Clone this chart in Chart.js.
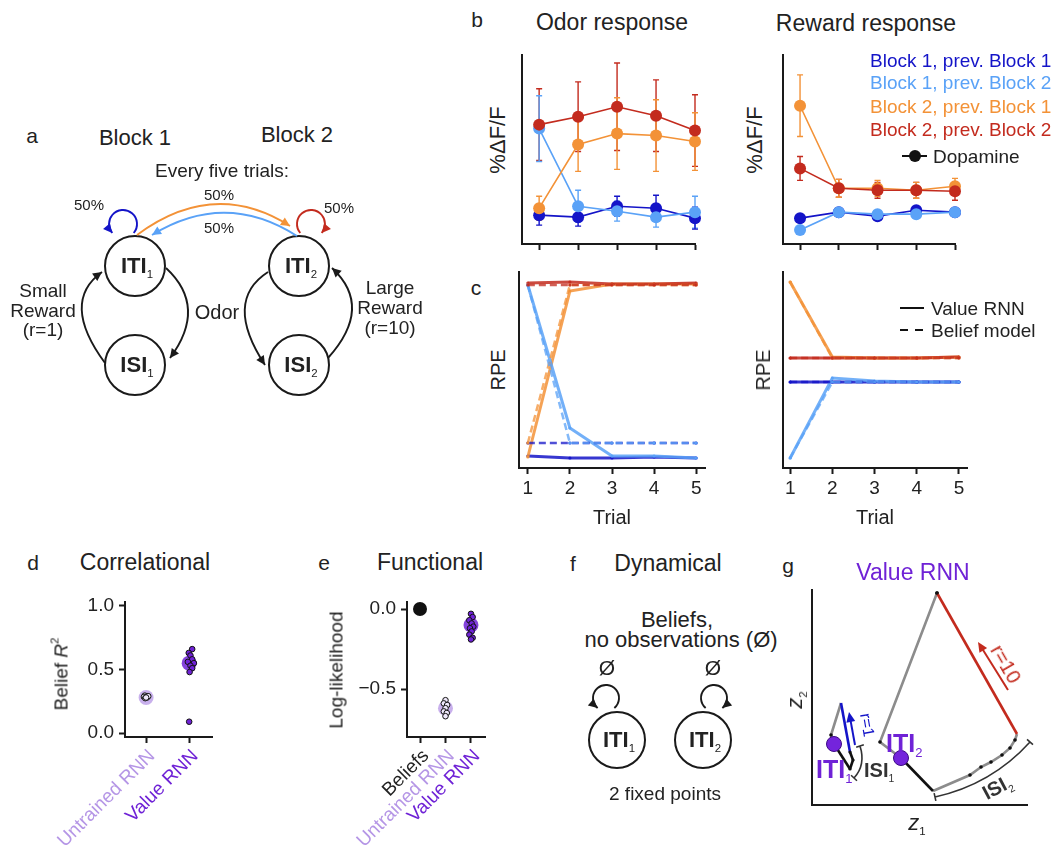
<!DOCTYPE html>
<html>
<head>
<meta charset="utf-8">
<title>Value RNN and beliefs</title>
<script src="https://cdn.jsdelivr.net/npm/chart.js@4.4.1/dist/chart.umd.min.js"></script>
<style>
  html, body { margin: 0; padding: 0; background: #fff; }
  #fig { position: relative; width: 1060px; height: 852px; overflow: hidden;
         font-family: 'Liberation Sans', Arial, Helvetica, sans-serif; color: #222; }
  #fig canvas { position: absolute; }
  .t { position: absolute; white-space: nowrap; line-height: 1; }
  .t sub { font-size: 0.52em; font-weight: normal; vertical-align: -0.45em; line-height: 0; }
  .t sup { font-size: 0.6em; vertical-align: 0.75em; line-height: 0; }
  .mark { position: absolute; }
</style>
</head>
<body>
<div id="fig"></div>
<script>
// ---------- data ----------
const TRIALS = [1, 2, 3, 4, 5];

// b: dopamine odor response (%dF/F, arbitrary units), mean and error
const odorB1prev1 = [0.29, 0.27, 0.38, 0.36, 0.26];
const odorB1prev1Err = [0.10, 0.09, 0.10, 0.13, 0.11];
const odorB1prev2 = [1.16, 0.38, 0.33, 0.27, 0.32];
const odorB1prev2Err = [0.33, 0.16, 0.10, 0.10, 0.16];
const odorB2prev1 = [0.36, 1.00, 1.11, 1.09, 1.03];
const odorB2prev1Err = [0.12, 0.27, 0.36, 0.36, 0.29];
const odorB2prev2 = [1.20, 1.28, 1.38, 1.29, 1.14];
const odorB2prev2Err = [0.36, 0.35, 0.44, 0.36, 0.36];

// b: dopamine reward response
const rewB1prev1 = [0.26, 0.32, 0.28, 0.34, 0.32];
const rewB1prev1Err = [0.03, 0.03, 0.03, 0.03, 0.03];
const rewB1prev2 = [0.14, 0.32, 0.30, 0.30, 0.32];
const rewB1prev2Err = [0.03, 0.03, 0.03, 0.03, 0.03];
const rewB2prev1 = [1.39, 0.56, 0.56, 0.54, 0.58];
const rewB2prev1Err = [0.31, 0.09, 0.08, 0.08, 0.08];
const rewB2prev2 = [0.76, 0.56, 0.54, 0.54, 0.53];
const rewB2prev2Err = [0.12, 0.09, 0.08, 0.08, 0.09];

// c: model RPEs (arbitrary units)
const rnnOdorB1prev1 = [0.12, 0.10, 0.10, 0.11, 0.10];
const rnnOdorB1prev2 = [1.83, 0.40, 0.12, 0.12, 0.10];
const rnnOdorB2prev1 = [0.11, 1.77, 1.84, 1.84, 1.84];
const rnnOdorB2prev2 = [1.85, 1.86, 1.84, 1.84, 1.85];
const beliefOdorB1prev1 = [0.25, 0.25, 0.25, 0.25, 0.25];
const beliefOdorB1prev2 = [1.83, 0.25, 0.25, 0.25, 0.25];
const beliefOdorB2prev1 = [0.25, 1.83, 1.83, 1.83, 1.83];
const beliefOdorB2prev2 = [1.83, 1.83, 1.83, 1.83, 1.83];
const rnnRewB1prev1 = [0.86, 0.86, 0.86, 0.86, 0.86];
const rnnRewB1prev2 = [0.10, 0.90, 0.87, 0.86, 0.86];
const rnnRewB2prev1 = [1.86, 1.11, 1.10, 1.10, 1.11];
const rnnRewB2prev2 = [1.10, 1.10, 1.10, 1.10, 1.11];
const beliefRewB1prev1 = [0.86, 0.86, 0.86, 0.86, 0.86];
const beliefRewB1prev2 = [0.10, 0.86, 0.86, 0.86, 0.86];
const beliefRewB2prev1 = [1.86, 1.10, 1.10, 1.10, 1.10];
const beliefRewB2prev2 = [1.10, 1.10, 1.10, 1.10, 1.10];

// d: correlational (belief R^2)
const CORR_CATS = ['Untrained RNN', 'Value RNN'];
const CORR_TICKS = [0, 0.5, 1];
const corrUntrained = [0.295, 0.29, 0.285, 0.28, 0.275, 0.29, 0.28];
const corrUntrainedJitter = [-0.03, 0.03, -0.05, 0.02, -0.02, 0.05, 0];
const corrValue = [0.66, 0.63, 0.61, 0.58, 0.56, 0.55, 0.53, 0.51, 0.48, 0.09];
const corrValueJitter = [0.07, -0.01, 0.03, 0.07, -0.03, 0.11, 0.03, 0.07, 0.01, 0];
const corrMeans = [0.28, 0.55];

// e: functional (log-likelihood)
const FUNC_CATS = ['Beliefs', 'Untrained RNN', 'Value RNN'];
const FUNC_TICKS = [-0.5, 0];
const funcUntrained = [-0.57, -0.59, -0.60, -0.62, -0.64, -0.65, -0.67];
const funcUntrainedJitter = [0, -0.065, 0.065, 0, -0.065, 0.05, 0];
const funcValue = [-0.03, -0.05, -0.07, -0.09, -0.11, -0.12, -0.14, -0.16, -0.18, -0.19];
const funcValueJitter = [0, 0.065, -0.065, 0.026, 0.09, -0.04, 0.026, -0.065, 0.065, 0];
const funcMeans = [0, -0.62, -0.10];

// g: Value RNN trajectory in (z1, z2)
const gFixed = [[0.22, 0.61], [0.89, 0.47]];
const gOdor1 = [[0.22, 0.61], [0.38, 0.36]];
const gIsi1 = [[0.38, 0.36], [0.41, 0.45], [0.38, 0.53]];
const gReward1 = [[0.38, 0.53], [0.29, 1.02]];
const gReturn1 = [[0.29, 1.02], [0.19, 0.70], [0.22, 0.61]];
const gOdor2 = [[0.89, 0.47], [1.21, 0.14]];
const gIsi2 = [[1.21, 0.14], [1.58, 0.30], [1.69, 0.38], [1.79, 0.43], [1.90, 0.50], [1.98, 0.57], [2.03, 0.65], [2.05, 0.71]];
const gReward2 = [[2.05, 0.71], [1.25, 2.12]];
const gReturn2 = [[1.25, 2.12], [0.68, 0.63], [0.89, 0.47]];

// ---------- style ----------
const INK = '#1a1a1a';
const C_B1P1 = '#1414c8';
const C_B1P2 = '#5aa2f7';
const C_B2P1 = '#f39237';
const C_B2P2 = '#c32b1e';
const PURPLE = '#6f22d6';
const LAVENDER = '#b596e6';
const GRAY = '#8c8c8c';
const CAT_COLOR = { 'Beliefs': '#222', 'Untrained RNN': LAVENDER, 'Value RNN': PURPLE };

Chart.defaults.font.family = "'Liberation Sans', Arial, Helvetica, sans-serif";
Chart.defaults.font.size = 19;
Chart.defaults.color = '#222';
Chart.defaults.animation = false;
Chart.defaults.responsive = false;
Chart.defaults.layout.autoPadding = false;
Chart.defaults.plugins.legend.display = false;
Chart.defaults.plugins.tooltip.enabled = false;

const fig = document.getElementById('fig');
const AXIS = { display: true, color: INK, width: 2 };
const TICKMARKS = { drawOnChartArea: false, drawTicks: true, tickLength: 6, tickWidth: 2, tickColor: INK };

function rgba(hex, a) {
  const n = parseInt(hex.slice(1), 16);
  return `rgba(${n >> 16}, ${(n >> 8) & 255}, ${n & 255}, ${a})`;
}

// canvas whose chart area lands on page box [l, t, r, b], margins [l, t, r, b]
function makeCanvas(area, m) {
  const c = document.createElement('canvas');
  const w = area[2] - area[0] + m[0] + m[2];
  const h = area[3] - area[1] + m[1] + m[3];
  c.width = w; c.height = h;
  c.style.left = (area[0] - m[0]) + 'px';
  c.style.top = (area[1] - m[1]) + 'px';
  c.style.width = w + 'px';
  c.style.height = h + 'px';
  fig.appendChild(c);
  return c;
}

function frame(m, x, y) {
  return {
    layout: { padding: { top: m[1], right: m[2], left: 0, bottom: 0 } },
    scales: {
      x: { type: 'linear', position: 'bottom', ...x,
           afterFit: s => { s.height = m[3]; s.paddingLeft = 0; s.paddingRight = 0; } },
      y: { type: 'linear', position: 'left', ...y,
           afterFit: s => { s.width = m[0]; s.paddingTop = 0; s.paddingBottom = 0; } },
    },
  };
}

function fixedTicks(values) {
  return s => { s.ticks = values.map(v => ({ value: v })); };
}

function arrowHead(ctx, x, y, ang, color, len = 9, half = 4.5) {
  ctx.fillStyle = color;
  ctx.beginPath();
  ctx.moveTo(x, y);
  ctx.lineTo(x - len * Math.cos(ang) + half * Math.sin(ang), y - len * Math.sin(ang) - half * Math.cos(ang));
  ctx.lineTo(x - len * Math.cos(ang) - half * Math.sin(ang), y - len * Math.sin(ang) + half * Math.cos(ang));
  ctx.closePath();
  ctx.fill();
}

// --- Error bars from dataset.errors ---
const errorBars = {
  id: 'errorBars',
  beforeDatasetsDraw(chart) {
    const { ctx, scales: { x, y } } = chart;
    ctx.save();
    chart.data.datasets.forEach(ds => {
      if (!ds.errors) return;
      ctx.strokeStyle = ds.borderColor;
      ctx.lineWidth = 1.4;
      ds.data.forEach((p, i) => {
        const px = x.getPixelForValue(p.x);
        const lo = y.getPixelForValue(p.y - ds.errors[i]);
        const hi = y.getPixelForValue(p.y + ds.errors[i]);
        ctx.beginPath();
        ctx.moveTo(px, lo); ctx.lineTo(px, hi);
        ctx.moveTo(px - 3, lo); ctx.lineTo(px + 3, lo);
        ctx.moveTo(px - 3, hi); ctx.lineTo(px + 3, hi);
        ctx.stroke();
      });
    });
    ctx.restore();
  },
};

// --- b: dopamine responses ---
function responseChart(area, series) {
  const m = [10, 10, 14, 12];
  return new Chart(makeCanvas(area, m), {
    type: 'scatter',
    data: {
      datasets: series.map(s => ({
        data: TRIALS.map((t, i) => ({ x: t, y: s.values[i] })),
        errors: s.errors,
        showLine: true,
        borderColor: s.color,
        backgroundColor: s.color,
        borderWidth: 1.6,
        pointRadius: 6,
        pointBorderWidth: 0,
        clip: false,
      })),
    },
    options: frame(m,
      { min: 0.56, max: 5, afterBuildTicks: fixedTicks(TRIALS), border: AXIS, grid: TICKMARKS, ticks: { display: false } },
      { min: 0, max: 1.9, border: AXIS, grid: { display: false }, ticks: { display: false } }),
    plugins: [errorBars],
  });
}

responseChart([522, 55, 695, 244], [
  { values: odorB2prev2, errors: odorB2prev2Err, color: C_B2P2 },
  { values: odorB2prev1, errors: odorB2prev1Err, color: C_B2P1 },
  { values: odorB1prev2, errors: odorB1prev2Err, color: C_B1P2 },
  { values: odorB1prev1, errors: odorB1prev1Err, color: C_B1P1 },
]);
responseChart([783, 55, 955, 244], [
  { values: rewB2prev2, errors: rewB2prev2Err, color: C_B2P2 },
  { values: rewB2prev1, errors: rewB2prev1Err, color: C_B2P1 },
  { values: rewB1prev2, errors: rewB1prev2Err, color: C_B1P2 },
  { values: rewB1prev1, errors: rewB1prev1Err, color: C_B1P1 },
]);

// --- c: model RPEs ---
function rpeChart(area, xMin, xMax, rnn, belief) {
  const m = [10, 10, 10, 40];
  const colors = [C_B2P2, C_B1P2, C_B2P1, C_B1P1];
  const line = (values, color, dashed) => ({
    data: TRIALS.map((t, i) => ({ x: t, y: values[i] })),
    showLine: true,
    borderColor: rgba(color, dashed ? 0.75 : 0.85),
    backgroundColor: rgba(color, 0.9),
    borderWidth: dashed ? 2.5 : 3,
    borderDash: dashed ? [7, 4] : [],
    pointRadius: 1.6,
    pointBorderWidth: 0,
    clip: false,
  });
  return new Chart(makeCanvas(area, m), {
    type: 'scatter',
    data: {
      datasets: [
        ...belief.map((v, i) => line(v, colors[i], true)),
        ...rnn.map((v, i) => line(v, colors[i], false)),
      ],
    },
    options: frame(m,
      { min: xMin, max: xMax, afterBuildTicks: fixedTicks(TRIALS), border: AXIS, grid: TICKMARKS,
        ticks: { padding: 3, callback: v => String(v) } },
      { min: 0, max: 1.96, border: AXIS, grid: { display: false }, ticks: { display: false } }),
  });
}

rpeChart([519, 272, 705, 468], 0.79, 5.21,
  [rnnOdorB2prev2, rnnOdorB1prev2, rnnOdorB2prev1, rnnOdorB1prev1],
  [beliefOdorB2prev2, beliefOdorB1prev2, beliefOdorB2prev1, beliefOdorB1prev1]);
rpeChart([783, 272, 967, 468], 0.83, 5.19,
  [rnnRewB2prev2, rnnRewB1prev2, rnnRewB2prev1, rnnRewB1prev1],
  [beliefRewB2prev2, beliefRewB1prev2, beliefRewB2prev1, beliefRewB1prev1]);

// --- d, e: strip plots ---
function dots(values, jitter, center, fill) {
  return {
    data: values.map((v, i) => ({ x: center + jitter[i], y: v })),
    pointRadius: 2.8, pointBackgroundColor: fill, pointBorderColor: '#111', pointBorderWidth: 1, clip: false,
  };
}
function meanDot(value, center, fill, r) {
  return { data: [{ x: center, y: value }], pointRadius: r, pointBackgroundColor: fill, pointBorderWidth: 0, clip: false };
}
function catAxis(cats, min, max) {
  return {
    min, max, afterBuildTicks: fixedTicks(cats.map((_, i) => i + 1)), border: AXIS, grid: TICKMARKS,
    ticks: { autoSkip: false, minRotation: 45, maxRotation: 45, padding: 2, labelOffset: 6,
             callback: v => cats[v - 1], color: c => CAT_COLOR[cats[c.index]] },
  };
}
const signed = v => (v < 0 ? '\u2212' : '') + Math.abs(v).toFixed(1);

const mD = [125, 10, 20, 115];
new Chart(makeCanvas([125, 602, 212, 737], mD), {
  type: 'scatter',
  data: {
    datasets: [
      dots(corrValue, corrValueJitter, 2, PURPLE),
      dots(corrUntrained, corrUntrainedJitter, 1, '#efe8fb'),
      meanDot(corrMeans[1], 2, rgba(PURPLE, 0.85), 7.5),
      meanDot(corrMeans[0], 1, rgba(LAVENDER, 0.75), 7.5),
    ],
  },
  options: frame(mD, catAxis(CORR_CATS, 0.51, 2.53),
    { min: -0.03, max: 1.03, afterBuildTicks: fixedTicks(CORR_TICKS), border: AXIS, grid: TICKMARKS,
      ticks: { padding: 5, callback: v => signed(v) } }),
});

const mE = [100, 10, 20, 115];
new Chart(makeCanvas([407, 602, 485, 737], mE), {
  type: 'scatter',
  data: {
    datasets: [
      dots(funcValue, funcValueJitter, 3, PURPLE),
      dots(funcUntrained, funcUntrainedJitter, 2, '#efe8fb'),
      meanDot(funcMeans[2], 3, rgba(PURPLE, 0.85), 7.5),
      meanDot(funcMeans[1], 2, rgba(LAVENDER, 0.75), 7.5),
      meanDot(funcMeans[0], 1, '#111', 7),
    ],
  },
  options: frame(mE, catAxis(FUNC_CATS, 0.49, 3.55),
    { min: -0.80, max: 0.044, afterBuildTicks: fixedTicks(FUNC_TICKS), border: AXIS, grid: TICKMARKS,
      ticks: { padding: 5, callback: v => signed(v) } }),
});

// --- g: trajectory ---
const gArrows = [
  { from: [0.43, 0.60], to: [0.37, 0.93], color: C_B1P1 },
  { from: [1.96, 1.15], to: [1.66, 1.63], color: C_B2P2 },
];
const gBrackets = [
  { from: [0.48, 0.59], ctrl: [0.54, 0.40], to: [0.42, 0.27] },
  { from: [1.23, 0.08], ctrl: [1.795, 0.205], to: [2.18, 0.63] },
];
const trajectoryNotes = {
  id: 'trajectoryNotes',
  afterDatasetsDraw(chart) {
    const { ctx, scales: { x, y } } = chart;
    const P = p => [x.getPixelForValue(p[0]), y.getPixelForValue(p[1])];
    ctx.save();
    ctx.lineWidth = 2;
    gArrows.forEach(a => {
      const [x0, y0] = P(a.from), [x1, y1] = P(a.to);
      const ang = Math.atan2(y1 - y0, x1 - x0);
      ctx.strokeStyle = a.color;
      ctx.beginPath();
      ctx.moveTo(x0, y0);
      ctx.lineTo(x1 - 6 * Math.cos(ang), y1 - 6 * Math.sin(ang));
      ctx.stroke();
      arrowHead(ctx, x1, y1, ang, a.color, 10, 4.5);
    });
    ctx.strokeStyle = '#333';
    ctx.lineWidth = 1.6;
    gBrackets.forEach(b => {
      const [x0, y0] = P(b.from), [cx, cy] = P(b.ctrl), [x1, y1] = P(b.to);
      ctx.beginPath();
      ctx.moveTo(x0, y0);
      ctx.quadraticCurveTo(cx, cy, x1, y1);
      [[x0, y0, cx, cy], [x1, y1, cx, cy]].forEach(([ex, ey, qx, qy]) => {
        const a = Math.atan2(ey - qy, ex - qx) + Math.PI / 2;
        ctx.moveTo(ex - 4 * Math.cos(a), ey - 4 * Math.sin(a));
        ctx.lineTo(ex + 4 * Math.cos(a), ey + 4 * Math.sin(a));
      });
      ctx.stroke();
    });
    ctx.restore();
  },
};
function path(points, color, radius) {
  return {
    data: points.map(p => ({ x: p[0], y: p[1] })),
    showLine: true, borderColor: color, borderWidth: 2.6,
    pointRadius: radius, pointBackgroundColor: '#111', pointBorderWidth: 0, clip: false,
  };
}
const mG = [10, 10, 25, 10];
new Chart(makeCanvas([812, 590, 1027, 805], mG), {
  type: 'scatter',
  data: {
    datasets: [
      { data: gFixed.map(p => ({ x: p[0], y: p[1] })), pointRadius: 7.5, pointBackgroundColor: '#7424dc',
        pointBorderColor: '#3c0a85', pointBorderWidth: 1, clip: false },
      path(gOdor1, '#111', 0),
      path(gOdor2, '#111', 0),
      path(gIsi1, '#111', 1.6),
      path(gReward1, C_B1P1, 0),
      path(gReward2, C_B2P2, [0, 1.8]),
      path(gIsi2, GRAY, [0, 1.8, 1.8, 1.8, 1.8, 1.8, 1.8, 0]),
      path(gReturn1, GRAY, [0, 1.8, 0]),
      path(gReturn2, GRAY, [1.8, 1.8, 0]),
    ],
  },
  options: frame(mG,
    { min: 0, max: 2.15, border: AXIS, grid: { display: false }, ticks: { display: false } },
    { min: 0, max: 2.15, border: AXIS, grid: { display: false }, ticks: { display: false } }),
  plugins: [trajectoryNotes],
});

// --- a, f: state diagrams (page-pixel units) ---
const nodesA = [
  { x: 135, y: 266, name: 'ITI', sub: '1' }, { x: 135, y: 365, name: 'ISI', sub: '1' },
  { x: 299, y: 266, name: 'ITI', sub: '2' }, { x: 299, y: 365, name: 'ISI', sub: '2' },
];
const edgesA = [
  { from: [137, 235], ctrl: [214, 178], to: [290, 226], color: C_B2P1 },
  { from: [297, 236], ctrl: [225, 190], to: [152, 235], color: C_B1P2 },
  { from: [166, 268], ctrl: [208, 307], to: [170, 358], color: INK },
  { from: [105, 363], ctrl: [60, 302], to: [102, 272], color: INK },
  { from: [268, 272], ctrl: [223, 301], to: [265, 365], color: INK },
  { from: [328, 358], ctrl: [374, 307], to: [332, 268], color: INK },
];
const loopsA = [
  { c: [123, 224], r: 14, a0: 40, a1: 140, ccw: true, color: C_B1P1 },
  { c: [311, 224], r: 14, a0: 140, a1: 40, ccw: false, color: C_B2P2 },
];
const nodesF = [
  { x: 617, y: 740, name: 'ITI', sub: '1' }, { x: 703, y: 740, name: 'ITI', sub: '2' },
];
const loopsF = [
  { c: [606, 698], r: 13, a0: 50, a1: 130, ccw: true, color: INK },
  { c: [714, 698], r: 13, a0: 130, a1: 50, ccw: false, color: INK },
];

function diagramArrows(edges, loops) {
  return {
    id: 'diagramArrows',
    afterDatasetsDraw(chart) {
      const { ctx, scales: { x, y } } = chart;
      const P = p => [x.getPixelForValue(p[0]), y.getPixelForValue(p[1])];
      const unit = x.getPixelForValue(1) - x.getPixelForValue(0);
      ctx.save();
      ctx.lineWidth = 1.9;
      edges.forEach(e => {
        const [x0, y0] = P(e.from), [cx, cy] = P(e.ctrl), [x1, y1] = P(e.to);
        ctx.strokeStyle = e.color;
        ctx.beginPath();
        ctx.moveTo(x0, y0);
        ctx.quadraticCurveTo(cx, cy, x1, y1);
        ctx.stroke();
        arrowHead(ctx, x1, y1, Math.atan2(y1 - cy, x1 - cx), e.color);
      });
      loops.forEach(l => {
        const [cx, cy] = P(l.c);
        const r = l.r * unit;
        const a0 = l.a0 * Math.PI / 180, a1 = l.a1 * Math.PI / 180;
        ctx.strokeStyle = l.color;
        ctx.beginPath();
        ctx.arc(cx, cy, r, a0, a1, l.ccw);
        ctx.stroke();
        const ex = cx + r * Math.cos(a1), ey = cy + r * Math.sin(a1);
        const dir = l.ccw ? Math.atan2(-Math.cos(a1), Math.sin(a1)) : Math.atan2(Math.cos(a1), -Math.sin(a1));
        arrowHead(ctx, ex, ey, dir, l.color);
      });
      ctx.restore();
    },
  };
}

function diagram(area, nodes, radius, edges, loops) {
  return new Chart(makeCanvas(area, [0, 0, 0, 0]), {
    type: 'scatter',
    data: {
      datasets: [{
        data: nodes.map(n => ({ x: n.x, y: n.y })),
        pointRadius: radius, pointBackgroundColor: '#fff', pointBorderColor: INK, pointBorderWidth: 2, clip: false,
      }],
    },
    options: {
      layout: { padding: 0, autoPadding: false },
      scales: {
        x: { display: false, min: area[0], max: area[2] },
        y: { display: false, min: area[1], max: area[3], reverse: true },
      },
    },
    plugins: [diagramArrows(edges, loops)],
  });
}
diagram([0, 180, 430, 405], nodesA, 30, edgesA, loopsA);
diagram([570, 670, 750, 780], nodesF, 28, [], loopsF);

// ---------- text ----------
function txt(html, x, y, o = {}) {
  const d = document.createElement('div');
  d.className = 't';
  d.innerHTML = html;
  d.style.left = x + 'px';
  d.style.top = y + 'px';
  d.style.fontSize = (o.size || 19) + 'px';
  if (o.color) d.style.color = o.color;
  if (o.bold) d.style.fontWeight = 'bold';
  if (o.italic) d.style.fontStyle = 'italic';
  const ax = o.anchor === 'left' ? '0%' : '-50%';
  d.style.transform = `translate(${ax}, -50%)` + (o.rot ? ` rotate(${o.rot}deg)` : '');
  fig.appendChild(d);
  return d;
}
function mark(css) {
  const d = document.createElement('div');
  d.className = 'mark';
  d.style.cssText += css;
  fig.appendChild(d);
}

// panel letters
[['a', 32, 135], ['b', 477, 19], ['c', 476, 287], ['d', 33, 562],
 ['e', 324, 562], ['f', 573, 563], ['g', 788, 565]].forEach(([s, x, y]) => txt(s, x, y, { size: 21 }));

// a
txt('Block 1', 135, 138, { size: 22 });
txt('Block 2', 297, 135, { size: 22 });
txt('Every five trials:', 222, 170, { size: 19 });
txt('50%', 89, 204, { size: 15 });
txt('50%', 339, 207, { size: 15 });
txt('50%', 219, 194, { size: 15 });
txt('50%', 219, 227, { size: 15 });
txt('Small', 43, 290); txt('Reward', 43, 310); txt('(r=1)', 43, 329);
txt('Odor', 217, 312, { size: 20 });
txt('Large', 390, 287); txt('Reward', 390, 307); txt('(r=10)', 390, 327);
nodesA.concat(nodesF).forEach(n => txt(`${n.name}<sub>${n.sub}</sub>`, n.x + 2, n.y, { size: 22, bold: true }));

// b
txt('Odor response', 612, 22, { size: 23 });
txt('Reward response', 866, 23, { size: 23 });
txt('%\u0394F/F', 498, 140, { size: 22, rot: -90 });
txt('%\u0394F/F', 755, 140, { size: 22, rot: -90 });
txt('Block 1, prev. Block 1', 870, 60, { anchor: 'left', color: C_B1P1 });
txt('Block 1, prev. Block 2', 870, 82, { anchor: 'left', color: C_B1P2 });
txt('Block 2, prev. Block 1', 870, 106, { anchor: 'left', color: C_B2P1 });
txt('Block 2, prev. Block 2', 870, 129, { anchor: 'left', color: C_B2P2 });
txt('Dopamine', 933, 156, { anchor: 'left' });
mark('left:902px;top:155px;width:25px;height:2px;background:#111;');
mark('left:909px;top:150px;width:12px;height:12px;border-radius:50%;background:#111;');

// c
txt('RPE', 498, 370, { size: 20, rot: -90 });
txt('RPE', 763, 370, { size: 20, rot: -90 });
txt('Trial', 612, 517, { size: 20 });
txt('Trial', 875, 517, { size: 20 });
txt('Value RNN', 931, 308, { anchor: 'left' });
txt('Belief model', 931, 330, { anchor: 'left' });
mark('left:900px;top:307px;width:24px;height:2px;background:#111;');
mark('left:900px;top:329px;width:8px;height:2px;background:#111;');
mark('left:915px;top:329px;width:8px;height:2px;background:#111;');

// d, e
txt('Correlational', 145, 562, { size: 23 });
txt('Belief <i>R</i><sup>2</sup>', 61, 674, { rot: -90 });
txt('Functional', 430, 562, { size: 23 });
txt('Log-likelihood', 336, 670, { rot: -90 });

// f
txt('Dynamical', 668, 563, { size: 23 });
txt('Beliefs,', 677, 620, { size: 22 });
txt('no observations (\u00D8)', 681, 640, { size: 22 });
txt('\u00D8', 607, 667, { size: 21 });
txt('\u00D8', 713, 667, { size: 21 });
txt('2 fixed points', 665, 793);

// g
txt('Value RNN', 913, 572, { size: 23, color: PURPLE });
txt('<i>z</i><sub>2</sub>', 795, 700, { size: 22, rot: -90 });
txt('<i>z</i><sub>1</sub>', 917, 823, { size: 22 });
txt('ITI<sub>1</sub>', 816, 769, { size: 25, bold: true, color: PURPLE, anchor: 'left' });
txt('ITI<sub>2</sub>', 886, 743, { size: 25, bold: true, color: PURPLE, anchor: 'left' });
txt('ISI<sub>1</sub>', 864, 770, { size: 20, bold: true, color: '#333', anchor: 'left' });
txt('ISI<sub>2</sub>', 997, 787, { size: 20, bold: true, color: '#333', rot: -28 });
txt('r=1', 867, 725, { size: 16, color: C_B1P1, rot: 80 });
txt('r=10', 1006, 664, { size: 20, color: C_B2P2, rot: 60 });
</script>
</body>
</html>
